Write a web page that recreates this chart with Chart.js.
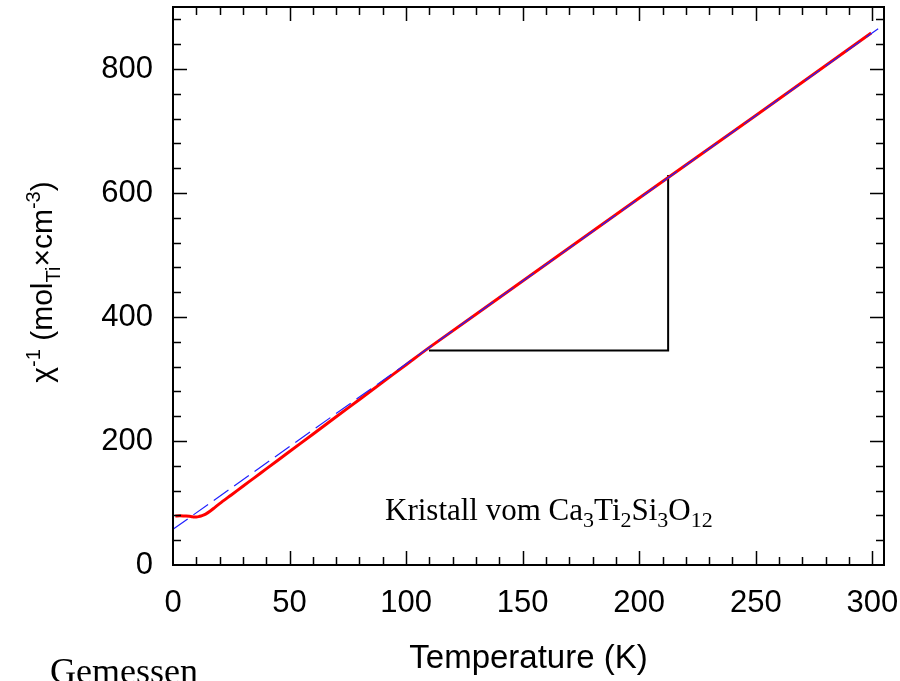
<!DOCTYPE html>
<html>
<head>
<meta charset="utf-8">
<script src="https://cdn.jsdelivr.net/npm/chart.js@4.4.0/dist/chart.umd.min.js"></script>
<style>
  html, body { margin: 0; padding: 0; background: #fff; }
  #chart { display: block; }
</style>
</head>
<body>
<canvas id="chart" width="900" height="681"></canvas>
<script>
  // measured curve (red)
  const tempMeas = [1, 3, 5, 7, 8, 9, 10, 11, 12, 14, 16, 18, 20, 25, 30, 35, 40, 50, 60, 70, 80, 90, 100, 110, 150, 200, 250, 299.5];
  const chiMeas = [79, 79.5, 79, 78.5, 78, 77.5, 77.5, 78, 79, 82, 87, 93, 99, 113, 127, 141, 155, 183, 211, 239, 267, 295, 323, 351, 458, 592, 725, 858];

  // Curie-Weiss fit (blue dashed)
  const tempFit = [0, 302.5];
  const chiFit = [57.5, 865];

  // slope triangle
  const tempTri = [109.8, 212.4, 212.4];
  const chiTri = [346, 346, 629];

  const xTicks = [0, 50, 100, 150, 200, 250, 300];
  const yTicks = [0, 200, 400, 600, 800];

  const SANS = "'Liberation Sans', Arial, sans-serif";
  const SERIF = "'Liberation Serif', 'Times New Roman', serif";

  function toPoints(xs, ys) {
    return xs.map((x, i) => ({ x: x, y: ys[i] }));
  }

  // draws text pieces one after another, with size and baseline shift
  function richText(ctx, parts, x, y, family, center) {
    let total = 0;
    parts.forEach(p => {
      ctx.font = p.size + "px " + family;
      p.w = ctx.measureText(p.t).width;
      total += p.w;
    });
    let cx = center ? x - total / 2 : x;
    ctx.textBaseline = "alphabetic";
    ctx.textAlign = "left";
    parts.forEach(p => {
      ctx.font = p.size + "px " + family;
      ctx.fillText(p.t, cx, y + (p.dy || 0));
      cx += p.w;
    });
  }

  const framePlugin = {
    id: "frame",
    afterDraw(chart) {
      const ctx = chart.ctx;
      const a = chart.chartArea;
      const xs = chart.scales.x;
      const ys = chart.scales.y;
      ctx.save();
      ctx.strokeStyle = "#000";

      // ticks pointing inward on all four sides
      ctx.lineWidth = 1.5;
      ctx.beginPath();
      for (let v = 10; v <= 300; v += 10) {
        const px = Math.round(xs.getPixelForValue(v)) + 0.5;
        const len = v % 50 === 0 ? 14 : 8;
        ctx.moveTo(px, a.bottom); ctx.lineTo(px, a.bottom - len);
        ctx.moveTo(px, a.top); ctx.lineTo(px, a.top + len);
      }
      for (let v = 40; v < 900; v += 40) {
        const py = Math.round(ys.getPixelForValue(v)) + 0.5;
        const len = v % 200 === 0 ? 14 : 8;
        ctx.moveTo(a.left, py); ctx.lineTo(a.left + len, py);
        ctx.moveTo(a.right, py); ctx.lineTo(a.right - len, py);
      }
      ctx.stroke();

      // frame
      ctx.lineWidth = 2;
      ctx.strokeRect(a.left, a.top, a.right - a.left, a.bottom - a.top);

      ctx.fillStyle = "#000";

      // x axis title
      ctx.font = "33px " + SANS;
      ctx.textAlign = "center";
      ctx.textBaseline = "alphabetic";
      ctx.fillText("Temperature (K)", (a.left + a.right) / 2, 668);

      // y axis title, rotated
      ctx.save();
      ctx.translate(52, 282);
      ctx.rotate(-Math.PI / 2);
      richText(ctx, [
        { t: "\u03C7", size: 30 },
        { t: "-1", size: 20, dy: -12 },
        { t: " (mol", size: 30 },
        { t: "Ti", size: 20, dy: 8 },
        { t: "\u00D7cm", size: 30 },
        { t: "-3", size: 20, dy: -12 },
        { t: ")", size: 30 }
      ], 0, 0, SANS, true);
      ctx.restore();

      // sample label
      richText(ctx, [
        { t: "Kristall vom Ca", size: 31 },
        { t: "3", size: 22, dy: 7 },
        { t: "Ti", size: 31 },
        { t: "2", size: 22, dy: 7 },
        { t: "Si", size: 31 },
        { t: "3", size: 22, dy: 7 },
        { t: "O", size: 31 },
        { t: "12", size: 22, dy: 7 }
      ], 385, 520, SERIF, false);

      ctx.font = "36px " + SERIF;
      ctx.textAlign = "left";
      ctx.fillText("Gemessen", 50, 683);

      ctx.restore();
    }
  };

  const ctx = document.getElementById("chart").getContext("2d");
  new Chart(ctx, {
    type: "scatter",
    data: {
      datasets: [
        {
          label: "Fit",
          data: toPoints(tempFit, chiFit),
          showLine: true,
          borderColor: "#2020ff",
          borderWidth: 1.2,
          borderDash: [18, 7],
          pointRadius: 0,
          fill: false
        },
        {
          label: "Gemessen",
          data: toPoints(tempMeas, chiMeas),
          showLine: true,
          borderColor: "#ff0000",
          borderWidth: 3,
          pointRadius: 0,
          tension: 0.3,
          fill: false
        },
        {
          label: "Steigung",
          data: toPoints(tempTri, chiTri),
          showLine: true,
          borderColor: "#000",
          borderWidth: 2,
          pointRadius: 0,
          fill: false
        }
      ]
    },
    options: {
      responsive: false,
      animation: false,
      devicePixelRatio: 1,
      layout: { padding: { top: 7, right: 16, bottom: 0, left: 0 } },
      plugins: {
        legend: { display: false },
        tooltip: { enabled: false }
      },
      scales: {
        x: {
          type: "linear",
          min: 0,
          max: 305,
          afterFit: s => {
            s.height = 116;
            s.paddingLeft = 0;
            s.paddingRight = 0;
          },
          afterBuildTicks: s => { s.ticks = xTicks.map(v => ({ value: v })); },
          grid: { display: false },
          border: { display: false },
          ticks: {
            color: "#000",
            padding: 12,
            maxRotation: 0,
            font: { family: SANS, size: 31 }
          }
        },
        y: {
          type: "linear",
          min: 0,
          max: 900,
          afterFit: s => {
            s.width = 173;
            s.paddingTop = 0;
            s.paddingBottom = 0;
          },
          afterBuildTicks: s => { s.ticks = yTicks.map(v => ({ value: v })); },
          grid: { display: false },
          border: { display: false },
          ticks: {
            color: "#000",
            padding: 12,
            font: { family: SANS, size: 31 }
          }
        }
      }
    },
    plugins: [framePlugin]
  });
</script>
</body>
</html>
